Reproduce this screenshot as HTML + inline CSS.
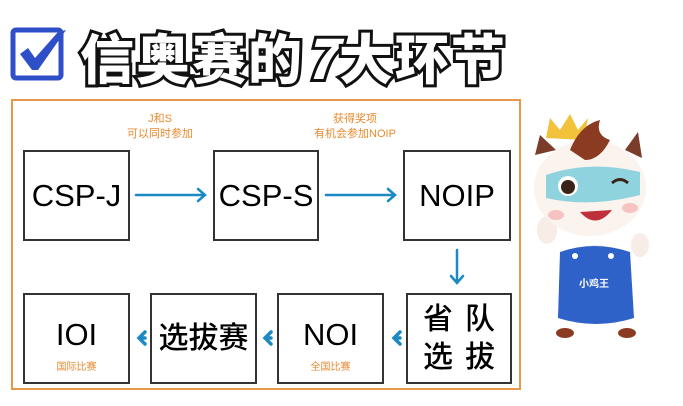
<!DOCTYPE html>
<html><head><meta charset="utf-8"><style>
*{margin:0;padding:0;box-sizing:border-box}
body{width:683px;height:406px;background:#fff;position:relative;overflow:hidden;font-family:"Liberation Sans","Noto Sans CJK SC",sans-serif}
.a{position:absolute}
.box{position:absolute;border:2px solid #333;background:#fff;display:flex;flex-direction:column;align-items:center;justify-content:center;color:#000}
.big{font-size:31px;font-weight:500;line-height:1}
.sub{font-size:10px;color:#e8892e;margin-top:8px}
.note{position:absolute;font-size:11px;color:#e8892e;text-align:center;line-height:15px}
.title{position:absolute;left:80px;top:16px;font-size:54px;font-weight:900;color:#fff;-webkit-text-stroke:6px #111;paint-order:stroke fill;letter-spacing:2px;font-family:"Noto Sans CJK SC",sans-serif;white-space:nowrap}
</style></head><body>
<svg class="a" style="left:10px;top:26px" width="58" height="56" viewBox="0 0 58 56">
<rect x="3" y="4" width="48" height="48" rx="3" fill="#fff" stroke="#2f4fc8" stroke-width="5"/>
<path d="M10 28 L18 22 L25 32 L48 6 L56 4 L28 44 L22 44 Z" fill="#2f4fc8"/>
</svg>
<div class="title">信奥赛的<i style="font-style:italic">7</i>大环节</div>
<div class="a" style="left:11px;top:99px;width:510px;height:291px;border:2px solid #e9974a"></div>
<div class="note" style="left:110px;top:112px;width:100px">J和S<br>可以同时参加</div>
<div class="note" style="left:295px;top:112px;width:120px">获得奖项<br>有机会参加NOIP</div>
<div class="box" style="left:23px;top:150px;width:107px;height:91px"><div class="big">CSP-J</div></div>
<div class="box" style="left:213px;top:150px;width:106px;height:91px"><div class="big">CSP-S</div></div>
<div class="box" style="left:403px;top:150px;width:108px;height:91px"><div class="big">NOIP</div></div>
<div class="box" style="left:23px;top:293px;width:107px;height:91px"><div class="big" style="margin-top:14px">IOI</div><div class="sub">国际比赛</div></div>
<div class="box" style="left:150px;top:293px;width:107px;height:91px"><div class="big" style="font-size:30px">选拔赛</div></div>
<div class="box" style="left:277px;top:293px;width:107px;height:91px"><div class="big" style="margin-top:14px">NOI</div><div class="sub">全国比赛</div></div>
<div class="box" style="left:406px;top:293px;width:106px;height:91px"><div class="big" style="font-size:30px;line-height:38px;letter-spacing:12px;margin-left:12px">省队<br>选拔</div></div>
<svg class="a" style="left:0;top:0" width="683" height="406">
<g stroke="#1b8ac4" stroke-width="2.5" fill="none" stroke-linecap="round">
<path d="M136 195 H205 M198 189 L205 195 L198 201"/>
<path d="M326 195 H395 M388 189 L395 195 L388 201"/>
<path d="M457 250 V283 M451 276 L457 283 L463 276"/>
</g>
<g stroke="#1b8ac4" stroke-width="3.5" fill="none" stroke-linecap="round">
<path d="M400 338 H394 M400 332 L394 338 L400 344"/>
<path d="M271 338 H265 M271 332 L265 338 L271 344"/>
<path d="M145 338 H139 M145 332 L139 338 L145 344"/>
</g>
<ellipse cx="596" cy="265" rx="30" ry="20" fill="#f7ece6"/>
<path d="M560 252 Q594 240 630 252 L634 318 Q596 330 558 318 Z" fill="#2e62c8"/>
<text x="594" y="287" font-size="10" fill="#fff" text-anchor="middle" font-weight="bold" font-family="Noto Sans CJK SC">小鸡王</text>
<circle cx="575" cy="256" r="3" fill="#fff"/><circle cx="611" cy="256" r="3" fill="#fff"/>
<ellipse cx="565" cy="333" rx="9" ry="5" fill="#8a3b22"/><ellipse cx="627" cy="333" rx="9" ry="5" fill="#8a3b22"/>
<ellipse cx="547" cy="230" rx="10" ry="14" fill="#f7ece6"/>
<ellipse cx="640" cy="245" rx="9" ry="12" fill="#f7ece6"/>
<ellipse cx="590" cy="188" rx="56" ry="48" fill="#fbf3ee"/>
<path d="M535 155 L540 135 L556 150 Z" fill="#7a3d2a"/>
<path d="M625 150 L638 132 L642 158 Z" fill="#7a3d2a"/>
<path d="M546 138 L550 118 L560 130 L570 114 L578 130 L588 118 L584 140 Z" fill="#f2c23a"/>
<path d="M570 150 Q580 125 600 120 Q595 135 610 140 Q600 160 585 160 Z" fill="#8a3b22"/>
<path d="M546 175 Q590 160 640 172 L640 195 Q590 208 546 198 Z" fill="#8fd3de"/>
<circle cx="568" cy="186" r="10" fill="#fff"/><circle cx="568" cy="187" r="7" fill="#3a2318"/>
<path d="M612 183 Q620 176 628 183" stroke="#3a2318" stroke-width="3" fill="none"/>
<path d="M580 212 Q596 230 612 210 Z" fill="#c0303a"/>
<ellipse cx="556" cy="215" rx="8" ry="5" fill="#f6c2c2"/><ellipse cx="630" cy="208" rx="8" ry="5" fill="#f6c2c2"/>
</svg>
</body></html>
